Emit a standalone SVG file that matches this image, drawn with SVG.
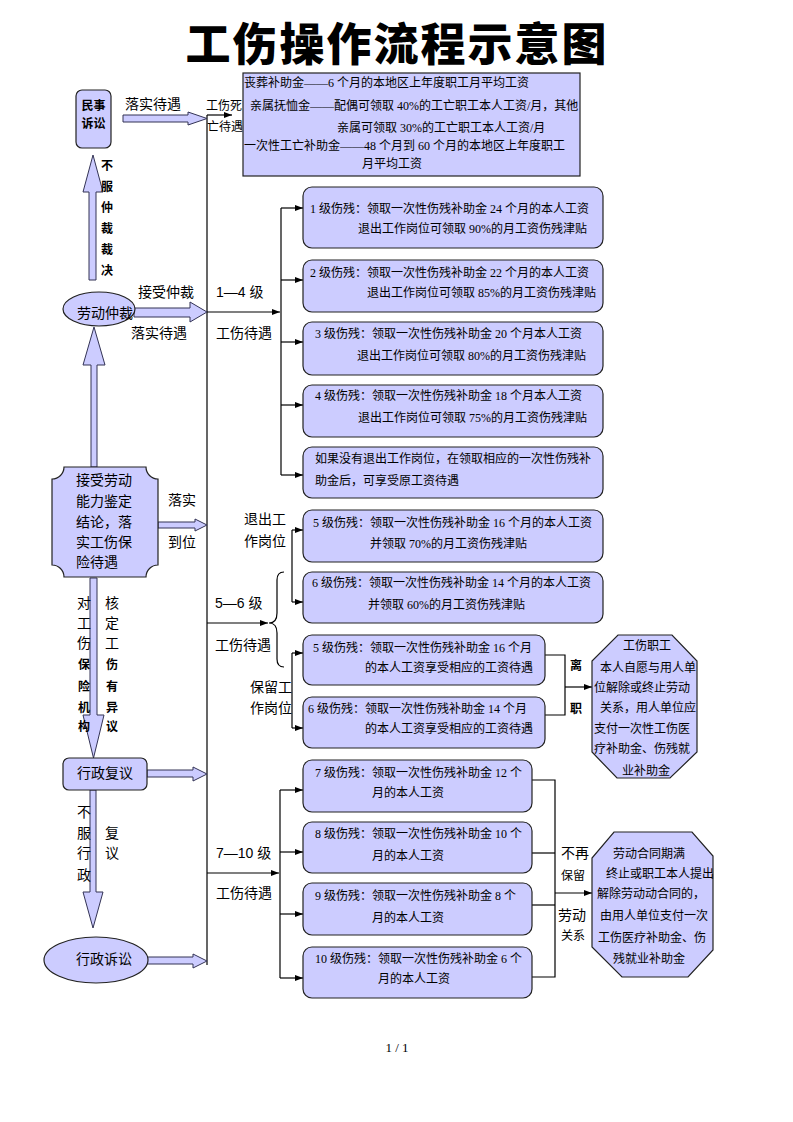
<svg xmlns="http://www.w3.org/2000/svg" width="793" height="1122" viewBox="0 0 793 1122">
<defs>
<marker id="ah" viewBox="0 0 8 8" refX="8" refY="4" markerWidth="8" markerHeight="8" markerUnits="userSpaceOnUse" orient="auto">
<path d="M0,1 L8,4 L0,7 Z" fill="#000"/>
</marker>
<style>
.box{fill:#ccccff;stroke:#222;stroke-width:1.2}
.blk{fill:#ccccff;stroke:#333355;stroke-width:1}
.ln{fill:none;stroke:#000;stroke-width:1.2}
.ar{fill:none;stroke:#000;stroke-width:1.2;marker-end:url(#ah)}
.t{font-family:"Liberation Serif","Noto Sans CJK SC",serif;font-size:12px;fill:#000}
.s{font-family:"Liberation Sans","Noto Sans CJK SC",sans-serif;font-size:14px;fill:#000}
.s12{font-family:"Liberation Sans","Noto Sans CJK SC",sans-serif;font-size:12px;fill:#000}
.b{font-weight:bold}
</style>
</defs>
<rect width="793" height="1122" fill="#fff"/>
<text x="397" y="61" text-anchor="middle" font-family="Noto Sans CJK SC, sans-serif" font-size="45" font-weight="900" letter-spacing="2">工伤操作流程示意图</text>

<g id="connectors">
<line class="ln" x1="207" y1="115" x2="207" y2="965"/>
<line class="ar" x1="207" y1="115" x2="232" y2="115"/>
<line class="ar" x1="207" y1="312" x2="280" y2="312"/>
<line class="ln" x1="281" y1="208" x2="281" y2="475"/>
<line class="ar" x1="281" y1="208" x2="303" y2="208"/>
<line class="ar" x1="281" y1="280" x2="303" y2="280"/>
<line class="ar" x1="281" y1="342" x2="303" y2="342"/>
<line class="ar" x1="281" y1="405" x2="303" y2="405"/>
<line class="ar" x1="281" y1="475" x2="303" y2="475"/>
<line class="ar" x1="207" y1="623" x2="268" y2="623"/>
<path class="ln" d="M284 572 Q277 572 277 580 L277 613 Q277 623 269 623 Q277 623 277 633 L277 659 Q277 667 284 667"/>
<line class="ln" x1="292" y1="530" x2="292" y2="602"/>
<line class="ar" x1="292" y1="530" x2="303" y2="530"/>
<line class="ar" x1="292" y1="602" x2="303" y2="602"/>
<line class="ln" x1="292" y1="653" x2="292" y2="728"/>
<line class="ar" x1="292" y1="653" x2="303" y2="653"/>
<line class="ar" x1="292" y1="728" x2="303" y2="728"/>
<polyline class="ln" points="545,655 565,655 565,715 545,715"/>
<line class="ar" x1="565" y1="687" x2="592" y2="687"/>
<line class="ar" x1="207" y1="873" x2="279" y2="873"/>
<line class="ln" x1="280" y1="790" x2="280" y2="978"/>
<line class="ar" x1="280" y1="790" x2="303" y2="790"/>
<line class="ar" x1="280" y1="852" x2="303" y2="852"/>
<line class="ar" x1="280" y1="914" x2="303" y2="914"/>
<line class="ar" x1="280" y1="978" x2="303" y2="978"/>
<polyline class="ln" points="532,780 555,780 555,977 532,977"/>
<line class="ln" x1="532" y1="853" x2="555" y2="853"/>
<line class="ln" x1="532" y1="905" x2="555" y2="905"/>
<line class="ar" x1="555" y1="893" x2="592" y2="893"/>
<!-- block arrows -->
<path class="blk" d="M123 115 L188 115 L188 112 L207 118.5 L188 125 L188 122 L123 122 Z"/>
<path class="blk" d="M89 280 L89 192 L83 192 L93 155 L103 192 L96 192 L96 280 Z"/>
<path class="blk" d="M134 308 L190 308 L190 302 L207 312 L190 322 L190 317 L134 317 Z"/>
<path class="blk" d="M91 467 L91 365 L83 365 L94 327 L105 365 L97 365 L97 467 Z"/>
<path class="blk" d="M158 522 L195 522 L195 519 L207 525 L195 531 L195 528 L158 528 Z"/>
<path class="blk" d="M90 578 L90 715 L83 715 L93.5 758 L104 715 L97 715 L97 578 Z"/>
<path class="blk" d="M147 770 L193 770 L193 767 L207 774 L193 781 L193 777 L147 777 Z"/>
<path class="blk" d="M90 790 L90 892 L83 892 L93 928 L103 892 L96 892 L96 790 Z"/>
<path class="blk" d="M147 957 L193 957 L193 954 L207 961 L193 968 L193 964 L147 964 Z"/>
</g>

<g id="labels">
<text class="s" x="125" y="109" font-size="16">落实待遇</text>
<text class="s12" x="206" y="110">工伤死</text>
<text class="s12" x="207" y="131">亡待遇</text>
<text class="s12 b" x="101" y="170" font-size="11">不</text>
<text class="s12 b" x="101" y="191" font-size="11">服</text>
<text class="s12 b" x="101" y="212" font-size="11">仲</text>
<text class="s12 b" x="101" y="233" font-size="11">裁</text>
<text class="s12 b" x="101" y="254" font-size="11">裁</text>
<text class="s12 b" x="101" y="275" font-size="11">决</text>
<text class="s" x="138" y="297">接受仲裁</text>
<text class="s" x="131" y="338">落实待遇</text>
<text class="s" x="216" y="297">1—4 级</text>
<text class="s" x="216" y="338">工伤待遇</text>
<text class="s" x="168" y="505">落实</text>
<text class="s" x="168" y="547">到位</text>
<text class="s" x="244" y="524">退出工</text>
<text class="s" x="244" y="546">作岗位</text>
<text class="s" x="215" y="608">5—6 级</text>
<text class="s" x="215" y="650">工伤待遇</text>
<text class="s" x="250" y="692">保留工</text>
<text class="s" x="250" y="713">作岗位</text>
<text class="s" x="77" y="608">对</text>
<text class="s" x="77" y="628">工</text>
<text class="s" x="77" y="648">伤</text>
<text class="s12 b" x="78" y="669">保</text>
<text class="s12 b" x="78" y="691">险</text>
<text class="s12 b" x="78" y="712">机</text>
<text class="s12 b" x="78" y="731">构</text>
<text class="s" x="105" y="608">核</text>
<text class="s" x="105" y="628">定</text>
<text class="s" x="105" y="648">工</text>
<text class="s12 b" x="106" y="669">伤</text>
<text class="s12 b" x="106" y="691">有</text>
<text class="s12 b" x="106" y="712">异</text>
<text class="s12 b" x="106" y="731">议</text>
<text class="s" x="77" y="817">不</text>
<text class="s" x="77" y="838">服</text>
<text class="s" x="77" y="858">行</text>
<text class="s" x="77" y="880">政</text>
<text class="s" x="105" y="838">复</text>
<text class="s" x="105" y="858">议</text>
<text class="s" x="216" y="858">7—10 级</text>
<text class="s" x="216" y="898">工伤待遇</text>
<text class="t b" x="570" y="670">离</text>
<text class="t b" x="570" y="713">职</text>
<text class="s" x="561" y="858">不再</text>
<text class="s12" x="561" y="880">保留</text>
<text class="s" x="558" y="920">劳动</text>
<text class="s12" x="561" y="940">关系</text>
</g>

<g id="n-death">
<rect class="box" x="243" y="73" width="337" height="103"/>
<text class="t" x="244" y="87">丧葬补助金——6 个月的本地区上年度职工月平均工资</text>
<text class="t" x="250" y="110">亲属抚恤金——配偶可领取 40%的工亡职工本人工资/月，其他</text>
<text class="t" x="337" y="132">亲属可领取 30%的工亡职工本人工资/月</text>
<text class="t" x="244" y="150">一次性工亡补助金——48 个月到 60 个月的本地区上年度职工</text>
<text class="t" x="362" y="168">月平均工资</text>
</g>

<g id="n-civil">
<rect class="box" x="76" y="90" width="35" height="58" rx="6"/>
<text class="s12 b" x="93.5" y="110" text-anchor="middle" font-size="13">民事</text>
<text class="s12 b" x="93.5" y="128" text-anchor="middle" font-size="13">诉讼</text>
</g>

<g id="n-arbitration">
<ellipse class="box" cx="99" cy="309" rx="36" ry="17"/>
<text class="s" x="77" y="318">劳动仲裁</text>
</g>

<g id="n-accept">
<path class="box" d="M64 467 L146 467 A12 12 0 0 0 158 479 L158 565 A12 12 0 0 0 146 577 L64 577 A12 12 0 0 0 52 565 L52 479 A12 12 0 0 0 64 467 Z"/>
<text class="s" x="76" y="485">接受劳动</text>
<text class="s" x="76" y="506">能力鉴定</text>
<text class="s" x="76" y="527">结论，落</text>
<text class="s" x="76" y="547">实工伤保</text>
<text class="s" x="76" y="567">险待遇</text>
</g>

<g id="n-review">
<rect class="box" x="63" y="758" width="84" height="32" rx="6"/>
<text class="s" x="105" y="778" text-anchor="middle">行政复议</text>
</g>

<g id="n-suit">
<ellipse class="box" cx="96" cy="960" rx="52" ry="23"/>
<text class="s" x="104" y="964" text-anchor="middle">行政诉讼</text>
</g>

<g id="n-g1">
<rect class="box" x="303" y="187" width="300" height="61" rx="9"/>
<text class="t" x="310" y="212.5">1 级伤残：领取一次性伤残补助金 24 个月的本人工资</text>
<text class="t" x="358" y="232.5">退出工作岗位可领取 90%的月工资伤残津贴</text>
</g>
<g id="n-g2">
<rect class="box" x="303" y="260" width="300" height="52" rx="9"/>
<text class="t" x="310" y="276.5">2 级伤残：领取一次性伤残补助金 22 个月的本人工资</text>
<text class="t" x="367" y="296.5">退出工作岗位可领取 85%的月工资伤残津贴</text>
</g>
<g id="n-g3">
<rect class="box" x="303" y="322" width="300" height="53" rx="9"/>
<text class="t" x="315" y="337.5">3 级伤残：领取一次性伤残补助金 20 个月本人工资</text>
<text class="t" x="357" y="359.5">退出工作岗位可领取 80%的月工资伤残津贴</text>
</g>
<g id="n-g4">
<rect class="box" x="303" y="385" width="300" height="52" rx="9"/>
<text class="t" x="315" y="399.5">4 级伤残：领取一次性伤残补助金 18 个月本人工资</text>
<text class="t" x="358" y="421.5">退出工作岗位可领取 75%的月工资伤残津贴</text>
</g>
<g id="n-g14note">
<rect class="box" x="303" y="447" width="300" height="51" rx="9"/>
<text class="t" x="315" y="462.5">如果没有退出工作岗位，在领取相应的一次性伤残补</text>
<text class="t" x="315" y="484.5">助金后，可享受原工资待遇</text>
</g>

<g id="n-g5a">
<rect class="box" x="303" y="510" width="300" height="52" rx="9"/>
<text class="t" x="313" y="526.5">5 级伤残：领取一次性伤残补助金 16 个月的本人工资</text>
<text class="t" x="370" y="547.5">并领取 70%的月工资伤残津贴</text>
</g>
<g id="n-g6a">
<rect class="box" x="303" y="572" width="300" height="51" rx="9"/>
<text class="t" x="312" y="586.5">6 级伤残：领取一次性伤残补助金 14 个月的本人工资</text>
<text class="t" x="368" y="608.5">并领取 60%的月工资伤残津贴</text>
</g>
<g id="n-g5b">
<rect class="box" x="303" y="635" width="242" height="50" rx="9"/>
<text class="t" x="313" y="651.5">5 级伤残：领取一次性伤残补助金 16 个月</text>
<text class="t" x="365" y="671.5">的本人工资享受相应的工资待遇</text>
</g>
<g id="n-g6b">
<rect class="box" x="303" y="697" width="242" height="51" rx="9"/>
<text class="t" x="308" y="712.5">6 级伤残：领取一次性伤残补助金 14 个月</text>
<text class="t" x="365" y="732.5">的本人工资享受相应的工资待遇</text>
</g>

<g id="n-quit">
<polygon class="box" points="618,635 672,635 697,661 697,752 670,778 617,778 592,752 592,661"/>
<text class="t" x="623" y="649.5">工伤职工</text>
<text class="t" x="600" y="671.5">本人自愿与用人单</text>
<text class="t" x="594" y="691.5">位解除或终止劳动</text>
<text class="t" x="600" y="711.5">关系，用人单位应</text>
<text class="t" x="594" y="732.5">支付一次性工伤医</text>
<text class="t" x="594" y="752.5">疗补助金、伤残就</text>
<text class="t" x="622" y="774.5">业补助金</text>
</g>

<g id="n-g7">
<rect class="box" x="303" y="760" width="229" height="52" rx="9"/>
<text class="t" x="315" y="776.5">7 级伤残：领取一次性伤残补助金 12 个</text>
<text class="t" x="372" y="796.5">月的本人工资</text>
</g>
<g id="n-g8">
<rect class="box" x="303" y="822" width="229" height="51" rx="9"/>
<text class="t" x="315" y="837.5">8 级伤残：领取一次性伤残补助金 10 个</text>
<text class="t" x="372" y="859.5">月的本人工资</text>
</g>
<g id="n-g9">
<rect class="box" x="303" y="883" width="229" height="52" rx="9"/>
<text class="t" x="315" y="899.5">9 级伤残：领取一次性伤残补助金 8 个</text>
<text class="t" x="372" y="921.5">月的本人工资</text>
</g>
<g id="n-g10">
<rect class="box" x="303" y="947" width="229" height="51" rx="9"/>
<text class="t" x="315" y="962.5">10 级伤残：领取一次性伤残补助金 6 个</text>
<text class="t" x="378" y="982.5">月的本人工资</text>
</g>

<g id="n-contract">
<polygon class="box" points="614,832 692,832 713,856 713,950 688,977 622,977 592,947 592,858"/>
<text class="t" x="613" y="857.5">劳动合同期满</text>
<text class="t" x="606" y="877.5">终止或职工本人提出</text>
<text class="t" x="597" y="897.5">解除劳动动合同的，</text>
<text class="t" x="600" y="919.5">由用人单位支付一次</text>
<text class="t" x="598" y="941.5">工伤医疗补助金、伤</text>
<text class="t" x="613" y="962.5">残就业补助金</text>
</g>

<text x="397" y="1052" text-anchor="middle" font-family="Liberation Serif, serif" font-size="13">1 / 1</text>
</svg>
